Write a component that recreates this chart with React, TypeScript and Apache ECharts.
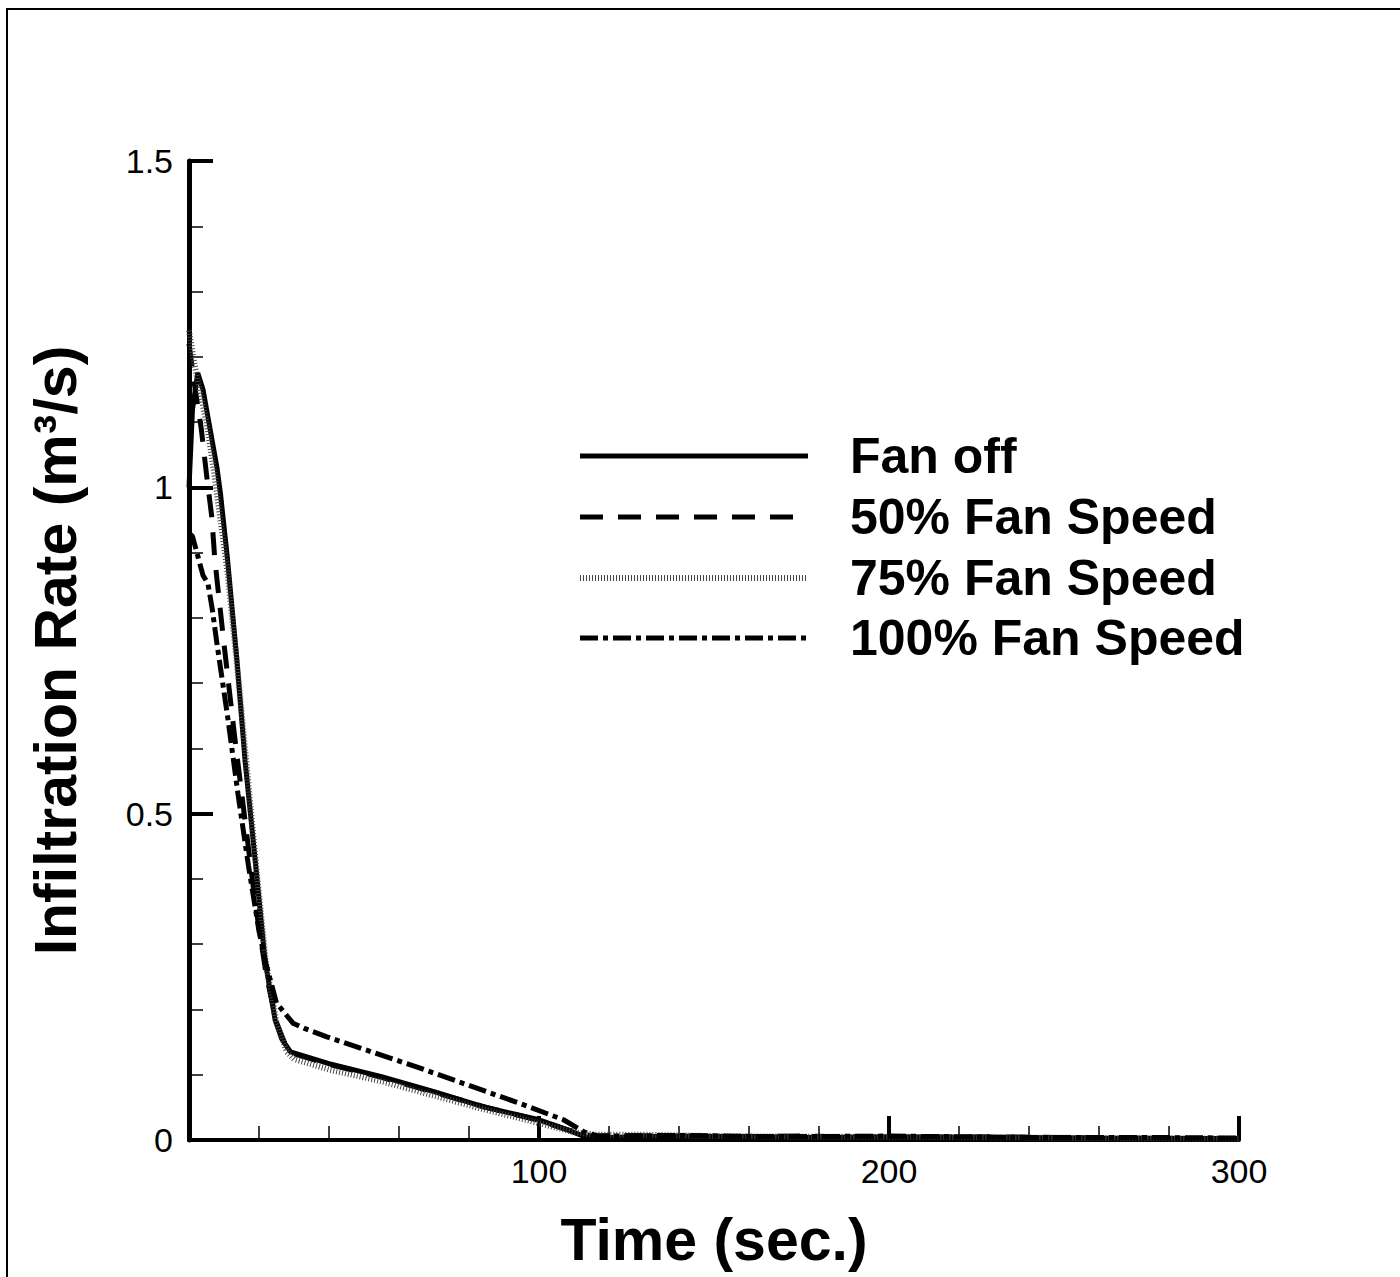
import React, { useEffect, useRef } from "react";
import * as echarts from "echarts";

// ---- data ----
const fanOffT = [0, 1, 2.5, 4, 6, 8, 9, 11, 13.7, 16, 18.9, 21.7, 24.6, 26.5, 29, 40, 55, 70, 84, 100, 108, 114, 120, 140, 160, 180, 200, 230, 260, 300];
const fanOffV = [1.0, 1.12, 1.175, 1.15, 1.09, 1.03, 0.99, 0.89, 0.735, 0.582, 0.429, 0.276, 0.184, 0.155, 0.135, 0.117, 0.097, 0.074, 0.051, 0.031, 0.016, 0.003, 0.004, 0.006, 0.005, 0.004, 0.005, 0.004, 0.003, 0.002];

const fan50T = [0, 1.5, 3.5, 5, 6.5, 7.4, 10, 13, 16, 19, 22, 25, 28, 30, 40, 55, 70, 85, 100, 108, 115, 125, 150, 175, 200, 230, 260, 300];
const fan50V = [1.22, 1.16, 1.09, 1.02, 0.955, 0.888, 0.76, 0.62, 0.49, 0.36, 0.255, 0.18, 0.14, 0.132, 0.116, 0.096, 0.073, 0.05, 0.03, 0.016, 0.006, 0.007, 0.005, 0.006, 0.004, 0.005, 0.003, 0.002];

const fan75T = [0, 1.5, 3, 5, 7, 9, 11, 13.5, 16, 19, 22, 25, 28, 30, 40, 55, 70, 85, 100, 110, 116, 130, 150, 175, 200, 230, 260, 300];
const fan75V = [1.24, 1.19, 1.15, 1.1, 1.03, 0.95, 0.87, 0.74, 0.6, 0.43, 0.27, 0.18, 0.135, 0.124, 0.108, 0.09, 0.068, 0.046, 0.026, 0.012, 0.008, 0.008, 0.006, 0.005, 0.005, 0.004, 0.003, 0.002];

const fan100T = [0, 1, 2.5, 4, 5.4, 6.6, 8, 11, 14, 17, 20, 22, 25, 29.7, 33, 39.4, 65, 94, 107, 113, 117, 140, 170, 200, 240, 270, 300];
const fan100V = [0.93, 0.925, 0.895, 0.865, 0.853, 0.815, 0.76, 0.65, 0.53, 0.42, 0.32, 0.27, 0.21, 0.179, 0.171, 0.158, 0.112, 0.057, 0.031, 0.012, 0.006, 0.007, 0.005, 0.006, 0.004, 0.004, 0.003];

const seriesNames = ["Fan off", "50% Fan Speed", "75% Fan Speed", "100% Fan Speed"];
const xTicks = [0, 100, 200, 300];
const yTicks = [0, 0.5, 1, 1.5];

const zip = (t: number[], v: number[]) => t.map((x, i) => [x, v[i]]);

const styles = [
  { color: "#000", width: 5, dash: null as number[] | null },
  { color: "#000", width: 5, dash: [23, 15] },
  { color: "#444", width: 6, dash: [1, 2] },
  { color: "#000", width: 5, dash: [18, 5, 5, 5] },
];

export default function App() {
  const ref = useRef<HTMLDivElement>(null);
  useEffect(() => {
    document.body.style.margin = "0";
    const chart = echarts.init(ref.current!, null, { renderer: "svg" });
    const font = "'Liberation Sans', Arial, sans-serif";
    const legendY = [456, 517, 578, 638];
    const legendGraphics: any[] = [];
    seriesNames.forEach((n, i) => {
      legendGraphics.push({
        type: "line",
        silent: true,
        shape: { x1: 580, y1: legendY[i], x2: 808, y2: legendY[i] },
        style: {
          stroke: styles[i].color,
          lineWidth: styles[i].width,
          lineDash: styles[i].dash || undefined,
        },
      });
      legendGraphics.push({
        type: "text",
        silent: true,
        x: 850,
        y: legendY[i],
        style: {
          text: n,
          fontFamily: font,
          fontWeight: "bold",
          fontSize: 50,
          fill: "#000",
          textVerticalAlign: "middle",
          verticalAlign: "middle",
        },
      });
    });
    chart.setOption({
      animation: false,
      backgroundColor: "#ffffff",
      grid: { left: 189, right: 161, top: 161, bottom: 137 },
      legend: { show: false, data: seriesNames },
      xAxis: {
        type: "value",
        min: xTicks[0],
        max: xTicks[xTicks.length - 1],
        interval: 100,
        name: "Time (sec.)",
        nameLocation: "middle",
        nameGap: 70,
        nameTextStyle: { fontFamily: font, fontWeight: "bold", fontSize: 59, color: "#000" },
        axisLine: { lineStyle: { color: "#000", width: 4 } },
        axisTick: { inside: true, length: 24, lineStyle: { color: "#000", width: 4 } },
        minorTick: { show: true, splitNumber: 5, length: 14, lineStyle: { color: "#000", width: 1.5 } },
        splitLine: { show: false },
        axisLabel: {
          fontFamily: font,
          fontSize: 34,
          color: "#000",
          margin: 14,
          formatter: (v: number) => (v === 0 ? "" : String(v)),
        },
      },
      yAxis: {
        type: "value",
        min: yTicks[0],
        max: yTicks[yTicks.length - 1],
        interval: 0.5,
        name: "Infiltration Rate (m³/s)",
        nameLocation: "middle",
        nameGap: 104,
        nameRotate: 90,
        nameTextStyle: { fontFamily: font, fontWeight: "bold", fontSize: 59, color: "#000" },
        axisLine: { lineStyle: { color: "#000", width: 5 } },
        axisTick: { inside: true, length: 24, lineStyle: { color: "#000", width: 4 } },
        minorTick: { show: true, splitNumber: 5, length: 14, lineStyle: { color: "#000", width: 1.5 } },
        splitLine: { show: false },
        axisLabel: { fontFamily: font, fontSize: 34, color: "#000", margin: 16 },
      },
      graphic: [
        {
          type: "rect",
          shape: { x: 7, y: 9, width: 2000, height: 2000 },
          style: { fill: "none", stroke: "#000", lineWidth: 2 },
          silent: true,
        },
        ...legendGraphics,
      ],
      series: [
        [fanOffT, fanOffV],
        [fan50T, fan50V],
        [fan75T, fan75V],
        [fan100T, fan100V],
      ].map(([t, v], i) => ({
        name: seriesNames[i],
        type: "line",
        symbol: "none",
        showSymbol: false,
        data: zip(t, v),
        lineStyle: {
          color: styles[i].color,
          width: styles[i].width,
          type: styles[i].dash || "solid",
        },
      })),
    });
    return () => chart.dispose();
  }, []);
  return <div ref={ref} style={{ width: 1400, height: 1277 }} />;
}
